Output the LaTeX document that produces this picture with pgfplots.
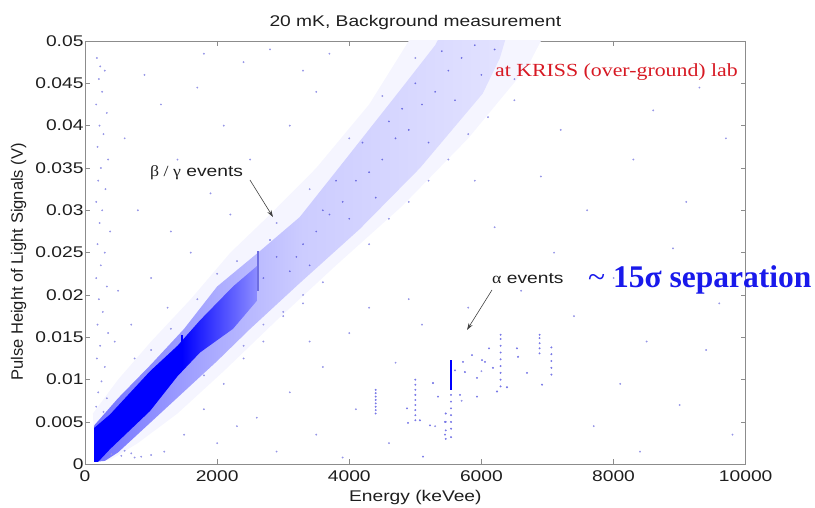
\documentclass[border=0pt]{standalone}
\usepackage{fontspec}
\setmainfont{Liberation Sans}[FakeStretch=1.24]
\newfontfamily\ylabfont{Liberation Sans}
\newfontfamily\kriss{Liberation Serif}[FakeStretch=1.18]
\newfontfamily\grk{Liberation Serif}[FakeStretch=1.15]
\newfontfamily\sepfont{Liberation Serif}
\usepackage{pgfplots}
\pgfplotsset{compat=1.18}
\usetikzlibrary{arrows.meta}

\definecolor{krissred}{RGB}{215,25,35}
\definecolor{sepblue}{RGB}{25,25,235}
\definecolor{dotc}{RGB}{150,150,230}
\definecolor{dotd}{RGB}{110,110,225}
\definecolor{alphac}{RGB}{120,120,230}
\definecolor{ticklab}{RGB}{30,30,30}
\colorlet{b100}{blue}
\colorlet{b55}{blue!55}
\colorlet{b45}{blue!45}
\colorlet{b32}{blue!32}
\colorlet{b20}{blue!20}
\colorlet{b11}{blue!11}

% band gets lighter from left (dense) to right (sparse)
\pgfdeclarehorizontalshading{bandshade}{100bp}{color(0bp)=(b55); color(25bp)=(b55); color(40bp)=(b32); color(50bp)=(b20); color(75bp)=(b11); color(100bp)=(b11)}
\pgfdeclarehorizontalshading{coreshade}{100bp}{color(0bp)=(b100); color(25bp)=(b100); color(52bp)=(b100); color(75bp)=(b45); color(100bp)=(b45)}

\begin{document}
\begin{tikzpicture}
\begin{axis}[
    name=ax,
    scale only axis,
    width=660.7pt, height=423.3pt,
    xmin=0, xmax=10000, ymin=0, ymax=0.05,
    xtick={0,2000,4000,6000,8000,10000},
    xticklabels={0,2000,4000,6000,8000,10000},
    ytick={0,0.005,0.01,0.015,0.02,0.025,0.03,0.035,0.04,0.045,0.05},
    yticklabels={0,0.005,0.01,0.015,0.02,0.025,0.03,0.035,0.04,0.045,0.05},
    scaled x ticks=false, scaled y ticks=false,
    tick align=inside, major tick length=5pt,
    axis line style={black!45, line width=0.8pt},
    tick style={black!45, line width=0.7pt},
    tick label style={font=\fontsize{15.5}{17}\selectfont, text=ticklab},
    yticklabel style={xshift=2pt},
    xticklabel style={yshift=-3pt},
    clip mode=individual,
]
% faint halo of the beta/gamma band
\addplot[draw=none, fill=blue!4, forget plot] coordinates {
 (120,0.0060)(500,0.0100)(1000,0.0145)(1600,0.0195)(2200,0.0250)(2800,0.0295)
 (3500,0.0350)(4300,0.0425)(4900,0.0500)(5100,0.0530)(7100,0.0530)(6700,0.0470)
 (5800,0.0385)(4800,0.0305)(3800,0.0235)(2900,0.0170)(2100,0.0110)(1400,0.0060)
 (800,0.0025)(400,0.0006)(150,0.0002)} -- cycle;
% main band
\addplot[draw=none, shade, shading=bandshade, forget plot] coordinates {
 (140,0.0046)(500,0.0078)(1000,0.0118)(1500,0.0160)(2000,0.0210)(2650,0.0252)
 (3250,0.0292)(3860,0.0352)(4770,0.0442)(5300,0.0495)(5500,0.0525)(6450,0.0525)
 (6280,0.0480)(6020,0.0438)(5070,0.0350)(4160,0.0278)(3250,0.0214)(2500,0.0160)
 (2000,0.0122)(1500,0.0086)(1000,0.0050)(500,0.0014)(300,0.0004)(150,0.0003)} -- cycle;
% dense core
\addplot[draw=none, shade, shading=coreshade, forget plot] coordinates {
 (140,0.0043)(380,0.0059)(985,0.0110)(1400,0.0140)(1740,0.0170)(2240,0.0210)
 (2600,0.0234)(2600,0.0193)(2240,0.0160)(1740,0.0132)(1400,0.0104)(985,0.0063)
 (380,0.0018)(200,0.0003)(140,0.0003)} -- cycle;
% gamma lines (narrow filled strips)
\addplot[draw=none, fill=dotd, forget plot] coordinates {(2598,0.0205)(2634,0.0205)(2634,0.0252)(2598,0.0252)} -- cycle;
\addplot[draw=none, fill=blue, forget plot] coordinates {(1450,0.0127)(1482,0.0127)(1482,0.0153)(1450,0.0153)} -- cycle;
% dense alpha line
\addplot[draw=none, fill=blue, forget plot] coordinates {(5520,0.0088)(5560,0.0088)(5560,0.0123)(5520,0.0123)} -- cycle;
% sparse events
\addplot[color=dotc, only marks, mark=*, mark size=0.7pt, forget plot] coordinates {
 (180,0.048)(230,0.047)(300,0.0465)(210,0.0455)(260,0.044)(170,0.0425)(330,0.0415)
 (220,0.040)(280,0.039)(190,0.0375)(350,0.036)(240,0.035)(200,0.0335)(310,0.0325)
 (170,0.031)(260,0.030)(220,0.0285)(380,0.0275)(190,0.026)(300,0.025)(240,0.0235)
 (170,0.022)(330,0.021)(210,0.0195)(270,0.018)(190,0.0165)(350,0.0155)(230,0.014)
 (180,0.0125)(300,0.0115)(250,0.0098)(200,0.0085)(330,0.0078)(170,0.0068)(280,0.0062)
 (600,0.0385)(900,0.046)(1150,0.0425)(800,0.030)(1400,0.036)(1700,0.0445)(2100,0.040)
 (2400,0.0475)(1300,0.0275)(1900,0.032)(500,0.0205)(700,0.0165)(1000,0.022)(2800,0.049)
 (3300,0.0465)(2500,0.036)(1600,0.025)(2200,0.0295)(3700,0.0485)(3100,0.040)(750,0.0125)
 (1250,0.0185)(450,0.0145)(1800,0.0485)(3500,0.0440)
 (6500,0.043)(7200,0.0395)(7900,0.046)(8600,0.0418)(9300,0.0445)(6900,0.034)(7600,0.030)
 (8300,0.036)(9100,0.031)(9700,0.0385)(6200,0.028)(7100,0.025)(8000,0.022)(8900,0.0255)
 (9600,0.019)(7400,0.0175)(8500,0.0145)(9400,0.0135)(8100,0.0095)(9000,0.007)(7700,0.0045)
 (9800,0.0035)(8400,0.0015)(6600,0.0205)(5900,0.0335)
 (1500,0.0035)(1800,0.0065)(2100,0.0095)(2400,0.0125)(2700,0.0145)(3000,0.0175)(3300,0.019)
 (2000,0.0025)(2600,0.0055)(3100,0.0085)(3600,0.0115)(4000,0.0155)(4300,0.0185)(3500,0.0035)
 (4100,0.0065)(4700,0.012)(5100,0.0165)(4600,0.0025)(5300,0.0045)(5700,0.0075)(6000,0.011)
 (5800,0.0185)(2900,0.0015)(3900,0.0008)(4900,0.0195)(3400,0.0145)(1200,0.0015)(2300,0.0045)
 (400,0.0012)(550,0.0010)(700,0.0013)(850,0.0009)(1000,0.0011)(600,0.0016)(750,0.0008)
 (1300,0.0160)(1700,0.0195)(2300,0.0240)(2900,0.0285)(3400,0.0325)(4000,0.0385)(4500,0.0435)
 (5000,0.0480)(1000,0.0135)(2000,0.0225)
 (1800,0.0105)(2400,0.0140)(3000,0.0180)(3600,0.0215)(4300,0.0260)(4900,0.0310)(5500,0.0360)
 (6100,0.0410)(6500,0.0455)(2700,0.0165)(3300,0.0200)(4600,0.0290)(5200,0.0335)(5800,0.0390)
};
% alpha region events, with the columns at 4400, 5000, 5540, 6290, 6880, 7060 keVee
\addplot[color=alphac, only marks, mark=*, mark size=0.75pt, forget plot] coordinates {
 (5267,0.0096)(4874,0.0066)(4889,0.0049)(5070,0.0052)(5222,0.0046)(5449,0.0035)(5449,0.0050)
 (5676,0.0082)(5721,0.0121)(5857,0.0129)(5933,0.0102)(5933,0.0080)(6054,0.0121)(6115,0.0137)
 (6175,0.0114)(6236,0.0086)(6387,0.0091)(6538,0.0137)(6554,0.0127)(6690,0.0108)(6917,0.0094)
 (5116,0.0009)(5343,0.0080)(5600,0.0111)(5751,0.0109)(6009,0.0123)
 (4400,0.0060)(4400,0.0064)(4400,0.0068)(4400,0.0072)(4400,0.0076)(4400,0.0080)(4400,0.0084)(4400,0.0088)
 (5000,0.0052)(5000,0.0058)(5000,0.0064)(5000,0.0070)(5000,0.0076)(5000,0.0082)(5000,0.0088)
 (5000,0.0094)(5000,0.0100)
 (5540,0.0032)(5540,0.0042)(5540,0.0050)(5540,0.0058)(5540,0.0066)(5540,0.0074)(5540,0.0082)
 (6290,0.0092)(6290,0.0100)(6290,0.0108)(6290,0.0116)(6290,0.0124)(6290,0.0132)(6290,0.0140)
 (6290,0.0148)(6290,0.0153)
 (6880,0.0131)(6880,0.0137)(6880,0.0143)(6880,0.0149)(6880,0.0153)
 (7060,0.0106)(7060,0.0114)(7060,0.0122)(7060,0.0130)(7060,0.0138)
 (5460,0.0030)(5460,0.0040)(5460,0.0050)(5460,0.0060)
};
% darker speckles inside the band
\addplot[color=dotd, only marks, mark=*, mark size=0.65pt, forget plot] coordinates {
 (2700,0.022)(2900,0.0245)(3100,0.0228)(3300,0.026)(3500,0.0275)(3700,0.0295)(3900,0.031)
 (4100,0.0335)(4300,0.0345)(4500,0.036)(4700,0.0385)(4900,0.0395)(5100,0.0425)(5300,0.044)
 (5500,0.0465)(5700,0.048)(5900,0.0495)(3200,0.0245)(3600,0.030)(4000,0.0290)(4400,0.0315)
 (4800,0.0420)(5200,0.0380)(5600,0.0430)(6000,0.046)(2800,0.0265)(3400,0.0235)(3800,0.0335)
 (4200,0.038)(4600,0.0405)(5000,0.0450)(5400,0.0488)(6200,0.0490)
};
% annotations
\node[anchor=base west, inner sep=0, font=\fontsize{15.5}{17}\selectfont, text=ticklab]
  at (axis cs:984,0.03405) {{\grk β / γ} events};
\draw[-{Stealth[length=7pt,width=4.5pt]}, black!75, line width=0.6pt]
  (axis cs:2497,0.03358) -- (axis cs:2845,0.02921);
\node[anchor=base west, inner sep=0, font=\fontsize{15.5}{17}\selectfont, text=ticklab]
  at (axis cs:6160,0.0213) {{\grk α} events};
\draw[-{Stealth[length=7pt,width=4.5pt]}, black!75, line width=0.6pt]
  (axis cs:6160,0.02059) -- (axis cs:5782,0.01587);
\node[anchor=base east, inner sep=0, text=krissred, font=\kriss\fontsize{18.5}{20}\selectfont]
  at (axis cs:9884,0.04575) {at KRISS (over-ground) lab};
\node[anchor=base west, inner sep=0, text=sepblue, font=\sepfont\fontsize{31.5}{33}\selectfont]
  at (axis cs:7613,0.02094) {{\mdseries\textasciitilde}\ \textbf{15σ separation}};
% title and axis labels
\node[anchor=base, font=\fontsize{15.5}{17}\selectfont, text=ticklab]
  at (rel axis cs:0.5,1) [yshift=14pt] {20 mK, Background measurement};
\node[anchor=base, font=\fontsize{15.5}{17}\selectfont, text=ticklab]
  at (rel axis cs:0.5,0) [yshift=-37.5pt] {Energy (keVee)};
\path (rel axis cs:0,0.478) ++(-62pt,0pt)
  node[anchor=base, rotate=90, font=\ylabfont\fontsize{16.5}{18}\selectfont, text=ticklab]
  {Pulse Height of Light Signals (V)};
\end{axis}
\pgfresetboundingbox
\useasboundingbox (ax.south west) ++(-85pt,-43.7pt) rectangle ++(815pt,508pt);
\end{tikzpicture}
\end{document}
